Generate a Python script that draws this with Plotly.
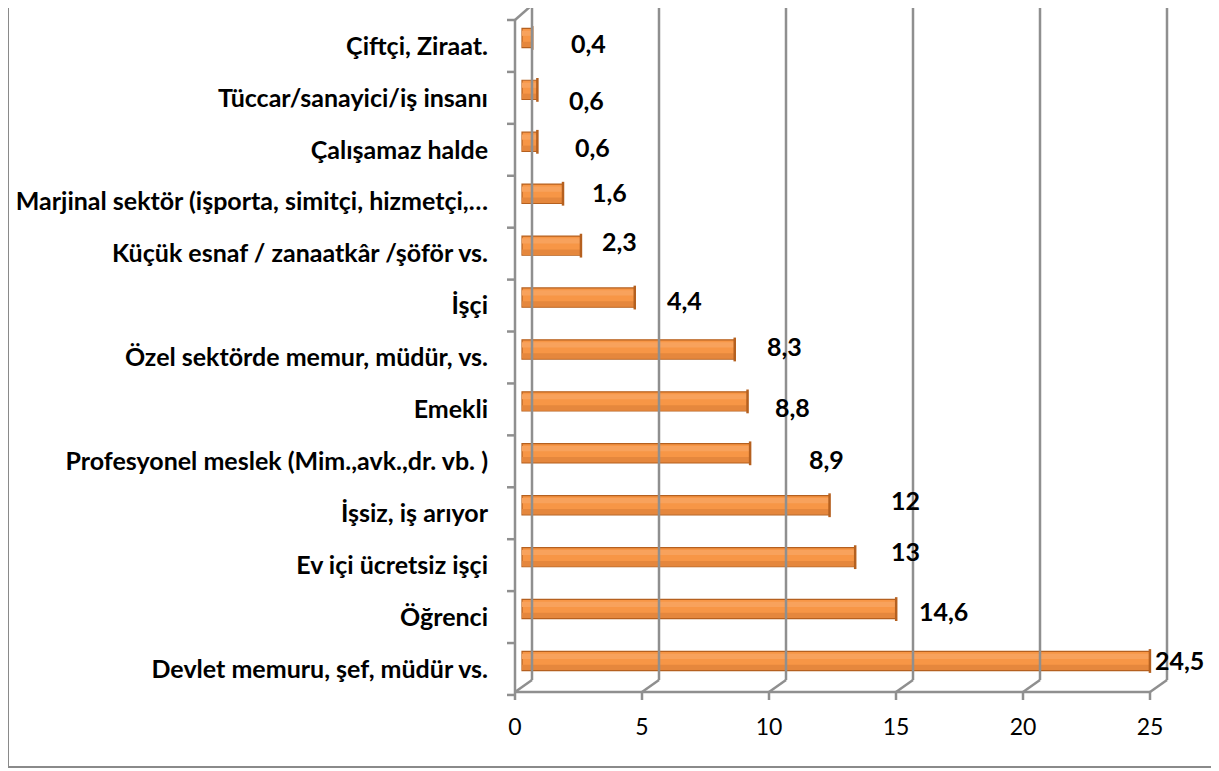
import plotly.graph_objects as go

# ---------------- data ----------------
categories = [
    "Çiftçi, Ziraat.",
    "Tüccar/sanayici/iş insanı",
    "Çalışamaz halde",
    "Marjinal sektör (işporta, simitçi, hizmetçi,…",
    "Küçük esnaf / zanaatkâr /şöför vs.",
    "İşçi",
    "Özel sektörde memur, müdür, vs.",
    "Emekli",
    "Profesyonel meslek (Mim.,avk.,dr. vb. )",
    "İşsiz, iş arıyor",
    "Ev içi ücretsiz işçi",
    "Öğrenci",
    "Devlet memuru, şef, müdür vs.",
]
values = [0.4, 0.6, 0.6, 1.6, 2.3, 4.4, 8.3, 8.8, 8.9, 12, 13, 14.6, 24.5]
value_labels = ["0,4", "0,6", "0,6", "1,6", "2,3", "4,4", "8,3", "8,8", "8,9",
                "12", "13", "14,6", "24,5"]
x_ticks = [0, 5, 10, 15, 20, 25]

# ------------- style / layout -------------
OFF = 8                      # page offset of the figure (body margin)
W, H = 1219 - OFF, 771 - OFF
PL, PR, PT, PB = 500, 1180, OFF, 700          # plot area in page px
label_dx = [56, 49, 55, 46, 39, 50, 50, 45, 76, 76, 50, 47, 30]
label_dy = [5, 10, 5, -2, -5, 2, -3, 6, 6, -5, -6, 2, -1]

BAR_FILL = "#F79646"
BAR_LIGHT = "#F8A25C"
BAR_DARK = "#E5873D"
BAR_EDGE = "#B5601F"
GRID = "#8F8F8F"
FONT = "Lato"
BAR_W = 0.37

order = categories[::-1]  # bottom first
n = len(categories)


def lin_range(px0, k, lo=PL, hi=PR):
    """axis range so that value 0 sits at px0 with k px per unit"""
    r0 = (lo - px0) / k
    return [r0, r0 + (hi - lo) / k]


# bar plane
bar_k = 25.63
bar_x_range = lin_range(522, bar_k)
cat_k = 51.92
bottom_center_px = 661
y_r0 = -(PB - bottom_center_px) / cat_k
y_range = [y_r0, y_r0 + (PB - PT) / cat_k]
front_shift = 8 / cat_k
y2_range = [y_range[0] + front_shift, y_range[1] + front_shift]

# front (decor) plane
dec_k = 25.4
dec_x_range = lin_range(515, dec_k)
back_dx = 17 / dec_k


def py(p):
    return (PB - p) / (PB - PT)


def bx(p):
    return (p - PL) / (PR - PL)


front_floor, back_floor, front_top, back_top = py(692), py(680), py(20), py(5)

fig = go.Figure()

fig.add_trace(go.Bar(
    y=categories, x=values, orientation="h",
    width=BAR_W,
    marker=dict(color=BAR_FILL, line=dict(color=BAR_EDGE, width=1.2)),
    xaxis="x", yaxis="y", hoverinfo="x+y", showlegend=False,
))
# subtle shading for the cylinder look
fig.add_trace(go.Bar(
    y=categories, x=values, orientation="h",
    width=0.1, offset=-BAR_W / 2 + 0.012,
    marker=dict(color=BAR_DARK, line=dict(width=0)),
    xaxis="x", yaxis="y", hoverinfo="skip", showlegend=False,
))
fig.add_trace(go.Bar(
    y=categories, x=values, orientation="h",
    width=0.1, offset=0.04,
    marker=dict(color=BAR_LIGHT, line=dict(width=0)),
    xaxis="x", yaxis="y", hoverinfo="skip", showlegend=False,
))
# end caps of the cylinders
fig.add_trace(go.Scatter(
    y=categories, x=values, mode="markers",
    marker=dict(symbol="line-ns", size=17, line=dict(color=BAR_EDGE, width=2.5)),
    xaxis="x", yaxis="y", hoverinfo="skip", showlegend=False,
))
# invisible trace to bind the front axes
fig.add_trace(go.Scatter(
    y=categories, x=[0] * n, mode="markers", marker=dict(opacity=0),
    xaxis="x2", yaxis="y2", hoverinfo="skip", showlegend=False,
))

shapes = []
line = dict(color=GRID, width=2.5)
for v in x_ticks:
    shapes.append(dict(type="line", xref="x2", yref="paper",
                       x0=v + back_dx, x1=v + back_dx, y0=back_floor, y1=back_top, line=line))
    shapes.append(dict(type="line", xref="x2", yref="paper",
                       x0=v, x1=v + back_dx, y0=front_floor, y1=back_floor, line=line))
    shapes.append(dict(type="line", xref="x2", yref="paper",
                       x0=v, x1=v, y0=front_floor, y1=py(700), line=line))
shapes.append(dict(type="line", xref="x2", yref="paper",
                   x0=x_ticks[0], x1=x_ticks[-1], y0=front_floor, y1=front_floor, line=line))
shapes.append(dict(type="line", xref="x2", yref="paper",
                   x0=0, x1=0, y0=front_floor, y1=front_top, line=line))
shapes.append(dict(type="line", xref="x2", yref="paper",
                   x0=0, x1=back_dx, y0=front_top, y1=back_top, line=line))
for i in range(-1, n):
    shapes.append(dict(type="line", xref="x2", yref="y2",
                       x0=-8 / dec_k, x1=0, y0=i + 0.5, y1=i + 0.5, line=line))
# outer border
shapes.append(dict(type="rect", xref="paper", yref="paper",
                   x0=bx(8), x1=bx(1217), y0=py(767), y1=py(-10),
                   line=dict(color="#8A8A8A", width=2), fillcolor="rgba(0,0,0,0)", layer="below"))

annotations = []
for c, v, t, dx, dy in zip(categories, values, value_labels, label_dx, label_dy):
    annotations.append(dict(
        x=v, y=c, xref="x", yref="y", text=t, showarrow=False,
        xanchor="center", yanchor="middle", xshift=dx, yshift=-dy,
        font=dict(family=FONT, size=25, color="#000000", weight="bold"),
    ))

fig.update_layout(
    width=W, height=H,
    margin=dict(l=PL - OFF, r=W - (PR - OFF), t=PT - OFF, b=H - (PB - OFF), pad=0),
    paper_bgcolor="white", plot_bgcolor="rgba(0,0,0,0)",
    showlegend=False, barmode="overlay",
    shapes=shapes, annotations=annotations,
    xaxis=dict(range=bar_x_range, visible=False, fixedrange=True),
    yaxis=dict(type="category", categoryorder="array", categoryarray=order,
               range=y_range, visible=False, fixedrange=True),
    xaxis2=dict(overlaying="x", anchor="y2", side="bottom", range=dec_x_range,
                tickmode="array", tickvals=x_ticks, ticktext=[str(t) for t in x_ticks],
                showgrid=False, zeroline=False, showline=False, ticks="",
                ticklabelstandoff=11,
                tickfont=dict(family=FONT, size=23, color="#000000"), fixedrange=True),
    yaxis2=dict(overlaying="y", anchor="x2", side="left", type="category",
                categoryorder="array", categoryarray=order, range=y2_range,
                showgrid=False, zeroline=False, showline=False, ticks="",
                ticklabelstandoff=11,
                tickfont=dict(family=FONT, size=25, color="#000000", weight="bold"),
                fixedrange=True),
)

fig.write_html("out.html")
